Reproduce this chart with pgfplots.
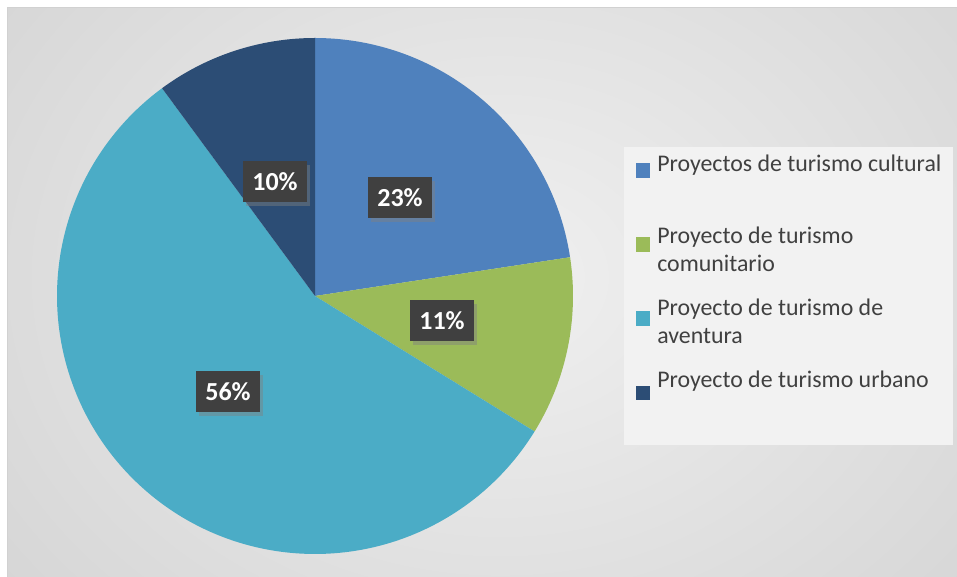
\documentclass[border=0pt]{standalone}
\usepackage{pgfplots}
\pgfplotsset{compat=1.18}
\usepackage{fontspec}
\setmainfont{Carlito}
\usetikzlibrary{shadows}
\definecolor{cCult}{HTML}{4F81BD}
\definecolor{cCom}{HTML}{9BBB59}
\definecolor{cAv}{HTML}{4BACC6}
\definecolor{cUrb}{HTML}{2C4D75}
\definecolor{bgIn}{HTML}{F0F0F0}
\definecolor{bgOut}{HTML}{BCBCBC}
\definecolor{legBg}{HTML}{F2F2F2}
\definecolor{txt}{HTML}{404040}
\definecolor{lblBg}{HTML}{404040}
% data (percent)
\def\vA{22.6}\def\vB{11.2}\def\vC{56.1}\def\vD{10.1}
\pgfmathsetmacro\aA{90}
\pgfmathsetmacro\aB{\aA-3.6*\vA}
\pgfmathsetmacro\aC{\aB-3.6*\vB}
\pgfmathsetmacro\aD{\aC-3.6*\vC}
\pgfmathsetmacro\aE{\aD-3.6*\vD}
\begin{document}%
\begin{tikzpicture}[x=0.75pt,y=0.75pt]
\useasboundingbox (0,0) rectangle (957,577);
\fill[white] (0,0) rectangle (957,577);
\begin{scope}
\clip (7,0) rectangle (957,569);
\shade[inner color=bgIn, outer color=bgOut] (500,300) ellipse [x radius=1250, y radius=1000];
\end{scope}
\draw[color=black!18, line width=0.75pt] (7,0) -- (7,569) -- (957,569);
\begin{axis}[at={(0,0)}, anchor=south west, width=717.75pt, height=432.75pt,
  scale only axis, xmin=0, xmax=957, ymin=0, ymax=577, hide axis, clip=false]
\addplot[fill=cCult, draw=none, domain=\aB:\aA, samples=90, variable=\t]
  ({315+258*cos(\t)},{281+258*sin(\t)}) -- (axis cs:315,281) -- cycle;
\addplot[fill=cCom, draw=none, domain=\aC:\aB, samples=60, variable=\t]
  ({315+258*cos(\t)},{281+258*sin(\t)}) -- (axis cs:315,281) -- cycle;
\addplot[fill=cAv, draw=none, domain=\aD:\aC, samples=200, variable=\t]
  ({315+258*cos(\t)},{281+258*sin(\t)}) -- (axis cs:315,281) -- cycle;
\addplot[fill=cUrb, draw=none, domain=\aE:\aD, samples=60, variable=\t]
  ({315+258*cos(\t)},{281+258*sin(\t)}) -- (axis cs:315,281) -- cycle;
% data labels
\tikzset{lbl/.style={fill=lblBg, text=white, font=\fontsize{19.5}{22}\selectfont\bfseries,
  minimum width=48pt, minimum height=30.75pt, inner sep=0pt,
  drop shadow={opacity=0.45, shadow xshift=2.5pt, shadow yshift=-2.5pt}}}
\node[lbl] at (axis cs:400,379) {23\%};
\node[lbl] at (axis cs:442,256) {11\%};
\node[lbl] at (axis cs:228,185) {56\%};
\node[lbl] at (axis cs:275,395) {10\%};
% legend
\fill[legBg] (axis cs:624,132) rectangle (axis cs:953,430);
\tikzset{lt/.style={anchor=base west, inner sep=0pt, text=txt, font=\fontsize{17.9}{21}\selectfont}}
\fill[cCult] (axis cs:636,399) rectangle (axis cs:650,414);
\node[lt] at (axis cs:657,405.3) {Proyectos de turismo cultural};
\fill[cCom] (axis cs:636,325) rectangle (axis cs:650,340);
\node[lt] at (axis cs:657,333) {Proyecto de turismo};
\node[lt] at (axis cs:657,305) {comunitario};
\fill[cAv] (axis cs:636,251) rectangle (axis cs:650,266);
\node[lt] at (axis cs:657,261) {Proyecto de turismo de};
\node[lt] at (axis cs:657,233) {aventura};
\fill[cUrb] (axis cs:636,177) rectangle (axis cs:650,191);
\node[lt] at (axis cs:657,189) {Proyecto de turismo urbano};
\end{axis}
\end{tikzpicture}%
\end{document}
